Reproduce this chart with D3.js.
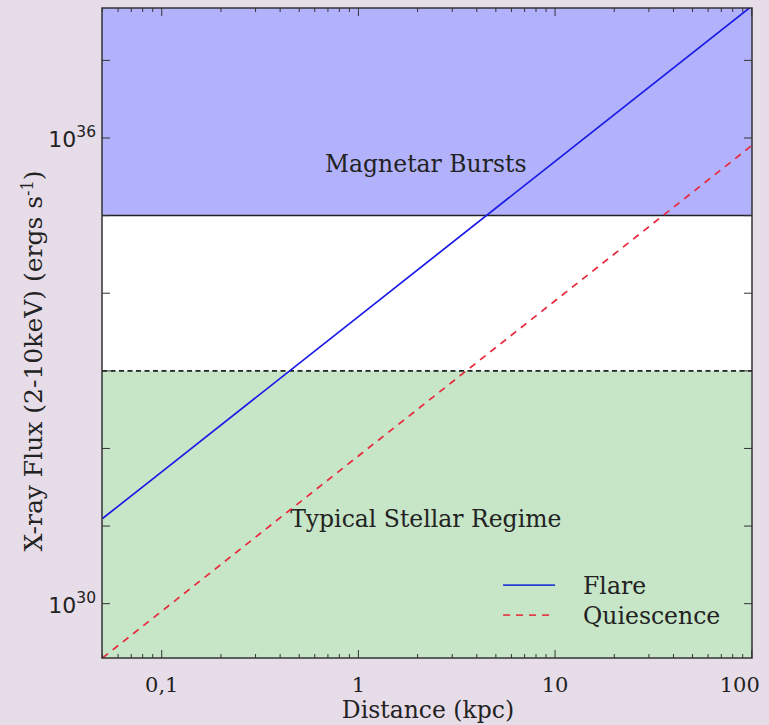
<!DOCTYPE html>
<html>
<head>
<meta charset="utf-8">
<script src="https://cdn.jsdelivr.net/npm/d3@7"></script>
<style>
  html, body { margin: 0; padding: 0; background: #e7dde9; }
  svg { display: block; }
  text { font-family: "DejaVu Serif", serif; fill: #222; }
</style>
</head>
<body>
<svg id="chart" width="769" height="725"></svg>
<script>
// Distance grid (kpc) and the flux each regime gives at those distances (erg s^-1)
const distances = [0.05, 0.1, 1, 10, 100];
const flareFlux = [1.25e31, 5e31, 5e33, 5e35, 5e37];
const quiescenceFlux = [2e29, 8e29, 8e31, 8e33, 8e35];

// Regime boundaries
const magnetarFloor = 1e35;
const stellarCeiling = 1e33;

// Axis ticks
const xTickValues = [0.1, 1, 10, 100];
const xTickLabels = ["0,1", "1", "10", "100"];
const yDecades = [30, 31, 32, 33, 34, 35, 36, 37];
const yLabelledDecades = [30, 36];

const svg = d3.select("#chart");
const margin = { left: 102, right: 17, top: 8, bottom: 67 };
const W = 769, H = 725;
const pw = W - margin.left - margin.right;
const ph = H - margin.top - margin.bottom;

const x = d3.scaleLog().domain([0.0497, 100.3]).range([0, pw]);
const y = d3.scaleLog().domain([Math.pow(10, 29.30), Math.pow(10, 37.675)]).range([ph, 0]);

const g = svg.append("g").attr("transform", `translate(${margin.left},${margin.top})`);

g.append("defs").append("clipPath").attr("id", "plot")
  .append("rect").attr("width", pw).attr("height", ph);

// Regime bands
g.append("rect").attr("width", pw).attr("height", ph).attr("fill", "#ffffff");
g.append("rect").attr("x", 0).attr("y", 0).attr("width", pw)
  .attr("height", y(magnetarFloor)).attr("fill", "#b2b2fc");
g.append("rect").attr("x", 0).attr("y", y(stellarCeiling)).attr("width", pw)
  .attr("height", ph - y(stellarCeiling)).attr("fill", "#c7e5c7");

g.append("line").attr("x1", 0).attr("x2", pw)
  .attr("y1", y(magnetarFloor)).attr("y2", y(magnetarFloor))
  .attr("stroke", "#222").attr("stroke-width", 1.5);
g.append("line").attr("x1", 0).attr("x2", pw)
  .attr("y1", y(stellarCeiling)).attr("y2", y(stellarCeiling))
  .attr("stroke", "#222").attr("stroke-width", 1.7).attr("stroke-dasharray", "5,3.5");

// Region labels
g.append("text").attr("x", x(2.2)).attr("y", y(Math.pow(10, 35.56)))
  .attr("text-anchor", "middle").attr("font-size", 23.5).text("Magnetar Bursts");
g.append("text").attr("x", x(2.2)).attr("y", y(Math.pow(10, 30.99)))
  .attr("text-anchor", "middle").attr("font-size", 23.5).text("Typical Stellar Regime");

// Flux lines
const line = d3.line().x((d, i) => x(distances[i])).y(d => y(d));
const lines = g.append("g").attr("clip-path", "url(#plot)");
lines.append("path").datum(flareFlux).attr("d", line)
  .attr("fill", "none").attr("stroke", "#1a1ae6").attr("stroke-width", 1.7);
lines.append("path").datum(quiescenceFlux).attr("d", line)
  .attr("fill", "none").attr("stroke", "#e8283c").attr("stroke-width", 1.7)
  .attr("stroke-dasharray", "7,6");

// Ticks (inward, on all four sides)
const xMinor = [];
for (let e = -2; e <= 2; e++) for (let m = 2; m <= 9; m++) {
  const v = m * Math.pow(10, e);
  if (v >= x.domain()[0] && v <= x.domain()[1]) xMinor.push(v);
}
const ticks = g.append("g").attr("stroke", "#333").attr("stroke-width", 1);
xTickValues.forEach(v => {
  ticks.append("line").attr("x1", x(v)).attr("x2", x(v)).attr("y1", ph).attr("y2", ph - 8);
  ticks.append("line").attr("x1", x(v)).attr("x2", x(v)).attr("y1", 0).attr("y2", 8);
});
xMinor.forEach(v => {
  ticks.append("line").attr("x1", x(v)).attr("x2", x(v)).attr("y1", ph).attr("y2", ph - 4);
  ticks.append("line").attr("x1", x(v)).attr("x2", x(v)).attr("y1", 0).attr("y2", 4);
});
yDecades.forEach(e => {
  const yy = y(Math.pow(10, e));
  if (yy < 0 || yy > ph) return;
  ticks.append("line").attr("x1", 0).attr("x2", 8).attr("y1", yy).attr("y2", yy);
  ticks.append("line").attr("x1", pw).attr("x2", pw - 8).attr("y1", yy).attr("y2", yy);
});

// Frame
g.append("rect").attr("width", pw).attr("height", ph)
  .attr("fill", "none").attr("stroke", "#333").attr("stroke-width", 1.5);

// X tick labels
xTickValues.forEach((v, i) => {
  const last = i === xTickValues.length - 1;
  g.append("text").attr("x", x(v) + (last ? -12 : 0)).attr("y", ph + 34)
    .attr("text-anchor", "middle").attr("font-size", 21).text(xTickLabels[i]);
});

// Y tick labels
yLabelledDecades.forEach(e => {
  const t = g.append("text").attr("x", -6).attr("y", y(Math.pow(10, e)) + 9)
    .attr("text-anchor", "end").style("font-family", "'DejaVu Sans', sans-serif").attr("font-size", 22);
  t.append("tspan").text("10");
  t.append("tspan").attr("dy", -10).attr("font-size", 15.5).text(String(e));
});

// Axis titles
svg.append("text").attr("x", 428).attr("y", 718)
  .attr("text-anchor", "middle").attr("font-size", 23.5).text("Distance (kpc)");
const yt = svg.append("text")
  .attr("transform", `translate(42,361) rotate(-90)`)
  .attr("text-anchor", "middle").attr("font-size", 25);
yt.append("tspan").text("X-ray Flux (2-10keV) (ergs s");
yt.append("tspan").attr("dy", -9).attr("font-size", 16).text("-1");
yt.append("tspan").attr("dy", 9).text(")");

// Legend
const legend = g.append("g").attr("transform", `translate(${x(5.44)},${y(Math.pow(10, 30.24))})`);
const legendItems = [
  { name: "Flare", color: "#2a3fd0", dash: null },
  { name: "Quiescence", color: "#e0404a", dash: "7,6" }
];
legendItems.forEach((d, i) => {
  legend.append("line").attr("x1", 0).attr("x2", 52).attr("y1", i * 30).attr("y2", i * 30)
    .attr("stroke", d.color).attr("stroke-width", 1.7).attr("stroke-dasharray", d.dash);
  legend.append("text").attr("x", 80).attr("y", i * 30 + 9).attr("font-size", 23.5).text(d.name);
});
</script>
</body>
</html>
